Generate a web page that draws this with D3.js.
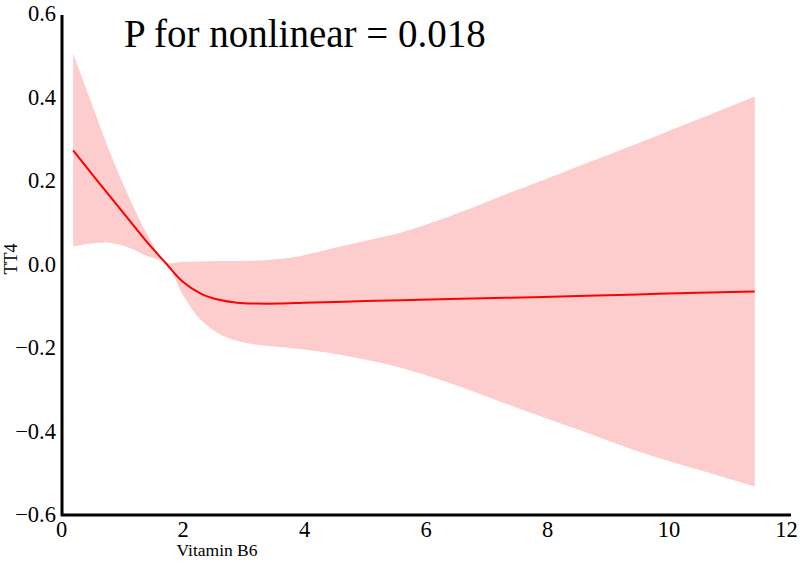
<!DOCTYPE html>
<html>
<head>
<meta charset="utf-8">
<script src="https://cdn.jsdelivr.net/npm/d3@7"></script>
<style>
  body { margin: 0; background: #fff; }
  text { font-family: "Liberation Serif", "Times New Roman", serif; }
</style>
</head>
<body>
<svg id="chart" width="800" height="565"></svg>
<script>
// spline fit of TT4 against vitamin B6, with 95% band
const vitB6 = [0.2, 0.5, 0.8, 1.1, 1.4, 1.73, 2.0, 2.3, 2.6, 2.9, 3.2, 3.6, 4.0, 4.5, 5.0, 5.6, 6.4, 7.4, 8.5, 9.5, 10.5, 11.42];
const fit   = [0.271, 0.216, 0.162, 0.108, 0.054, 0.0, -0.043, -0.072, -0.087, -0.094, -0.096, -0.096, -0.094, -0.092, -0.090, -0.088, -0.085, -0.082, -0.078, -0.074, -0.070, -0.067];
const upper = [0.503, 0.385, 0.268, 0.165, 0.075, 0.003, 0.004, 0.005, 0.006, 0.006, 0.007, 0.011, 0.020, 0.037, 0.054, 0.074, 0.113, 0.170, 0.232, 0.288, 0.346, 0.400];
const lower = [0.041, 0.048, 0.050, 0.039, 0.019, 0.0, -0.074, -0.135, -0.168, -0.185, -0.194, -0.200, -0.206, -0.216, -0.230, -0.250, -0.286, -0.340, -0.397, -0.450, -0.494, -0.534];
const xTicks = [0, 2, 4, 6, 8, 10, 12];
const yTicks = [-0.6, -0.4, -0.2, 0.0, 0.2, 0.4, 0.6];

const svg = d3.select("#chart");

const x = d3.scaleLinear().domain([0, 12]).range([61, 790]);
const y = d3.scaleLinear().domain([-0.6, 0.6]).range([514, 13]);

const rows = vitB6.map((v, i) => ({x: v, fit: fit[i], lo: lower[i], hi: upper[i]}));
const curve = d3.curveCatmullRom.alpha(0.5);

// confidence band
svg.append("path")
  .datum(rows)
  .attr("fill", "#fdcccc")
  .attr("d", d3.area()
    .x(d => x(d.x))
    .y0(d => y(d.lo))
    .y1(d => y(d.hi))
    .curve(curve));

// fitted line
svg.append("path")
  .datum(rows)
  .attr("fill", "none")
  .attr("stroke", "#ff0000")
  .attr("stroke-width", 2)
  .attr("d", d3.line()
    .x(d => x(d.x))
    .y(d => y(d.fit))
    .curve(curve));

// axes
const xAxis = svg.append("g")
  .attr("transform", "translate(0,515)")
  .call(d3.axisBottom(x).tickValues(xTicks).tickSize(0).tickPadding(6).tickFormat(d3.format("d")));
const yAxis = svg.append("g")
  .attr("transform", "translate(62,0)")
  .call(d3.axisLeft(y).tickValues(yTicks).tickSize(0).tickPadding(6).tickFormat(d3.format(".1f")));

[xAxis, yAxis].forEach(g => {
  g.attr("font-family", null);
  g.select(".domain").attr("stroke", "#000").attr("stroke-width", 3);
  g.selectAll("text")
    .attr("fill", "#000")
    .style("font-size", "22.5px");
});
yAxis.selectAll("text").attr("dy", "0.35em");
// last label sits at the right edge, pull it in a little
xAxis.selectAll("text").filter(d => d === 12).attr("dx", -4);
xAxis.select(".domain").attr("d", "M61,0H791");
yAxis.select(".domain").attr("d", "M0,15V516");

// axis titles
svg.append("text")
  .attr("x", 217)
  .attr("y", 556)
  .attr("text-anchor", "middle")
  .style("font-size", "17.5px")
  .text("Vitamin B6");

svg.append("text")
  .attr("transform", "translate(17,259) rotate(-90)")
  .attr("text-anchor", "middle")
  .style("font-size", "18px")
  .text("TT4");

// annotation
svg.append("text")
  .attr("x", 124)
  .attr("y", 47)
  .style("font-size", "39px")
  .text("P for nonlinear = 0.018");
</script>
</body>
</html>
